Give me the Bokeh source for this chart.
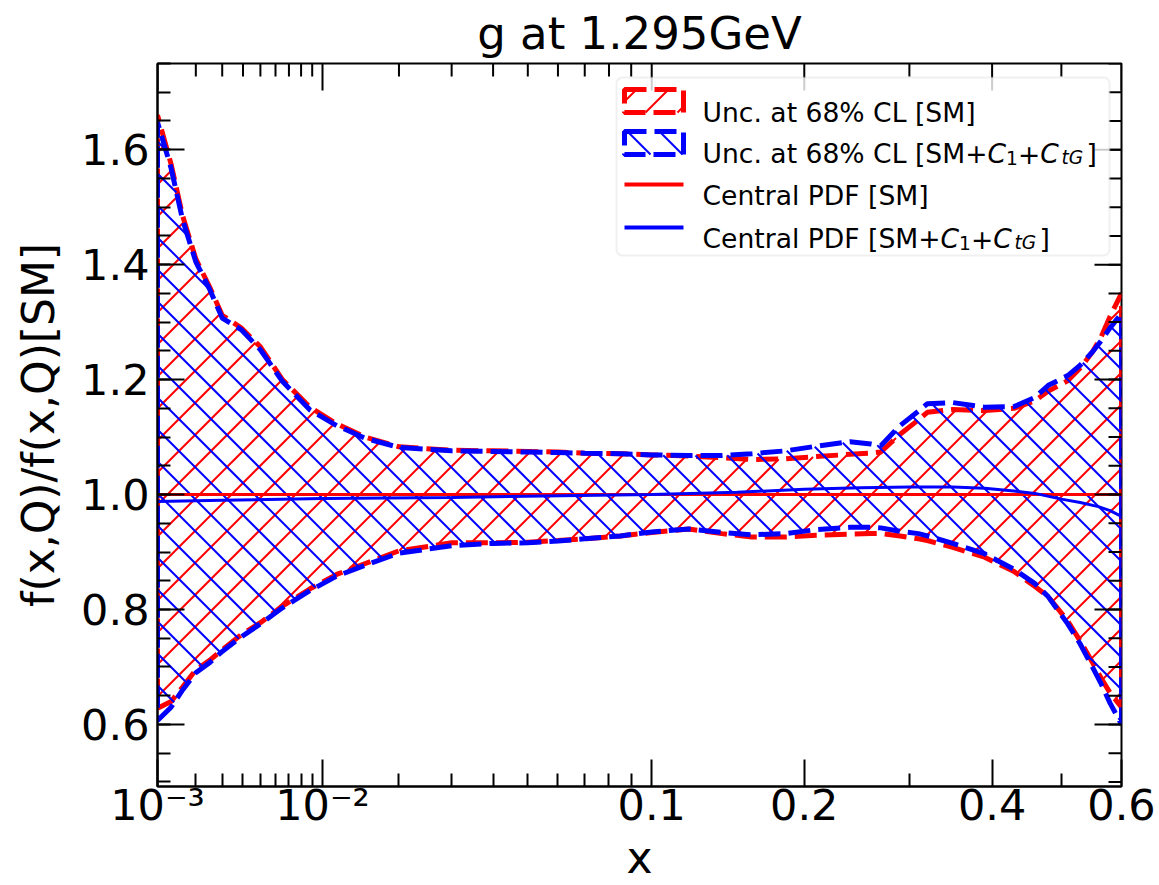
import numpy as np
from bokeh.plotting import figure
from bokeh.models import Range1d, FixedTicker, PrintfTickFormatter, BoxAnnotation, Label
from bokeh.embed import file_html
from bokeh.resources import INLINE

# ---------------- data ----------------
x_vals = [0.001, 0.0013, 0.0016, 0.002, 0.0025, 0.003, 0.0039, 0.005, 0.0065, 0.0088,
          0.0115, 0.015, 0.02, 0.03, 0.04, 0.05, 0.06, 0.07, 0.085, 0.1,
          0.12, 0.14, 0.16, 0.185, 0.21, 0.24, 0.26, 0.27, 0.29, 0.31,
          0.32, 0.35, 0.39, 0.43, 0.46, 0.48, 0.51, 0.53, 0.55, 0.565,
          0.58, 0.6]

sm_upper = [1.66, 1.575, 1.485, 1.41, 1.36, 1.312, 1.29, 1.257, 1.20, 1.152,
            1.123, 1.10, 1.083, 1.077, 1.076, 1.075, 1.074, 1.072, 1.071, 1.069,
            1.067, 1.064, 1.061, 1.062, 1.066, 1.070, 1.072, 1.074, 1.105, 1.13,
            1.143, 1.148, 1.146, 1.150, 1.163, 1.18, 1.198, 1.22, 1.248, 1.275,
            1.31, 1.35]
sm_lower = [0.628, 0.640, 0.665, 0.695, 0.712, 0.73, 0.756, 0.777, 0.806, 0.836,
            0.861, 0.880, 0.902, 0.916, 0.916, 0.917, 0.920, 0.923, 0.928, 0.934,
            0.940, 0.932, 0.926, 0.926, 0.929, 0.931, 0.932, 0.932, 0.928, 0.923,
            0.920, 0.908, 0.891, 0.866, 0.84, 0.822, 0.78, 0.745, 0.708, 0.68,
            0.655, 0.63]

smc_upper = [1.648, 1.568, 1.478, 1.405, 1.356, 1.307, 1.287, 1.252, 1.197, 1.147,
             1.12, 1.098, 1.082, 1.076, 1.075, 1.074, 1.073, 1.072, 1.071, 1.069,
             1.068, 1.068, 1.071, 1.076, 1.084, 1.092, 1.088, 1.085, 1.12, 1.145,
             1.158, 1.160, 1.152, 1.153, 1.169, 1.19, 1.207, 1.225, 1.248, 1.268,
             1.29, 1.315]
smc_lower = [0.607, 0.630, 0.660, 0.690, 0.708, 0.727, 0.752, 0.775, 0.803, 0.833,
             0.858, 0.877, 0.898, 0.911, 0.915, 0.916, 0.919, 0.923, 0.928, 0.935,
             0.940, 0.934, 0.930, 0.932, 0.939, 0.943, 0.943, 0.942, 0.936, 0.932,
             0.928, 0.915, 0.897, 0.870, 0.845, 0.822, 0.775, 0.74, 0.70, 0.67,
             0.637, 0.60]

x_central = [0.001, 0.003, 0.01, 0.03, 0.1, 0.15, 0.2, 0.25, 0.3, 0.35,
             0.39, 0.43, 0.46, 0.5, 0.53, 0.56, 0.58, 0.6]
sm_central = [1.0, 1.0, 1.0, 1.0, 1.0, 1.0, 1.0, 1.0, 1.0, 1.0,
              1.0, 1.0, 1.0, 1.0, 1.0, 1.0, 1.0, 1.0]
smc_central = [0.988, 0.990, 0.993, 0.995, 1.0, 1.004, 1.009, 1.012, 1.013, 1.013,
               1.011, 1.006, 1.002, 0.992, 0.986, 0.979, 0.972, 0.962]

x_major_ticks = [0.001, 0.01, 0.1, 0.2, 0.4, 0.6]
x_major_labels = ["10⁻³", "10⁻²", "0.1", "0.2", "0.4", "0.6"]
x_minor_ticks = [0.002, 0.003, 0.004, 0.005, 0.006, 0.007, 0.008, 0.009,
                 0.02, 0.03, 0.04, 0.05, 0.06, 0.07, 0.08, 0.09, 0.3, 0.5]
y_major_ticks = [0.6, 0.8, 1.0, 1.2, 1.4, 1.6]
y_minor_ticks = [round(0.5 + 0.05 * i, 2) for i in range(26)]

title_text = "g at 1.295GeV"
x_label = "x"
y_label = "f(x,Q)/f(x,Q)[SM]"
legend_labels = ["Unc. at 68% CL [SM]", "Unc. at 68% CL [SM+", "Central PDF [SM]", "Central PDF [SM+"]

# ---------------- x axis uses a power-law (x^0.3) scale ----------------
POW = 0.3


def fwd(v):
    return [float(np.power(float(t), POW)) for t in v]


W, H = 1159, 885
FL, FR, FT, FB = 157, 1121, 63, 786          # intended frame edges (px)
X0, X1 = 0.001, 0.6
Y0, Y1 = 0.492, 1.75
U0, U1 = fwd([X0, X1])
DU = (U1 - U0) / (FR - FL)                   # data units per px
DY = (Y1 - Y0) / (FB - FT)

p = figure(width=W, height=H, output_backend="svg", toolbar_location=None,
           x_range=Range1d(U0, U1), y_range=Range1d(Y0, Y1),
           min_border_left=FL, min_border_right=W - FR,
           min_border_top=FT, min_border_bottom=H - FB,
           background_fill_color="white", border_fill_color="white")
p.grid.visible = False
p.outline_line_color = "black"
p.outline_line_width = 2

p.title.text = title_text
p.title.align = "center"
p.title.text_font = "DejaVu Sans"
p.title.text_font_size = "45px"
p.title.text_font_style = "normal"
p.title.text_color = "black"
p.title.standoff = 7


# ---------------- hatching (45 degree lines in screen space) ----------------
def hatch_lines(xb, lo, hi, sign, spacing=32.0, phase=0.0):
    """xb, lo, hi in screen px (x right, y up). Lines Y = sign*X + c."""
    xb = np.asarray(xb, float)
    lo = np.asarray(lo, float)
    hi = np.asarray(hi, float)
    Xs = np.arange(xb[0], xb[-1] + 0.01, 0.25)
    lo_i = np.interp(Xs, xb, lo)
    hi_i = np.interp(Xs, xb, hi)
    cmin = np.min(lo_i - sign * Xs)
    cmax = np.max(hi_i - sign * Xs)
    c0 = np.floor((cmin - phase) / spacing) * spacing + phase
    xs_out, ys_out = [], []
    for c in np.arange(c0, cmax + spacing, spacing):
        Y = sign * Xs + c
        inside = (Y >= lo_i) & (Y <= hi_i)
        if not inside.any():
            continue
        d = np.diff(inside.astype(int))
        starts = list(np.where(d == 1)[0] + 1)
        ends = list(np.where(d == -1)[0])
        if inside[0]:
            starts = [0] + starts
        if inside[-1]:
            ends = ends + [len(Xs) - 1]
        for s, e in zip(starts, ends):
            if e > s:
                xs_out.append([U0 + Xs[s] * DU, U0 + Xs[e] * DU])
                ys_out.append([Y0 + Y[s] * DY, Y0 + Y[e] * DY])
    return xs_out, ys_out


u = fwd(x_vals)
upx = [(v - U0) / DU for v in u]


def to_px_y(vals):
    return [(v - Y0) / DY for v in vals]


def band(lo, hi):
    return u + u[::-1], list(lo) + list(hi)[::-1]


# SM band (red, "/" hatch)
hx, hy = hatch_lines(upx, to_px_y(sm_lower), to_px_y(sm_upper), +1, 32.0, 26.0)
p.multi_line(hx, hy, line_color="red", line_width=2)
bx, by = band(sm_lower, sm_upper)
p.patch(bx, by, fill_color=None, line_color="red", line_width=5, line_dash="22 8")

# SM + C band (blue, "\" hatch)
hx, hy = hatch_lines(upx, to_px_y(smc_lower), to_px_y(smc_upper), -1, 32.0, 5.0)
p.multi_line(hx, hy, line_color="blue", line_width=2)
bx, by = band(smc_lower, smc_upper)
p.patch(bx, by, fill_color=None, line_color="blue", line_width=5, line_dash="22 8")

uc = fwd(x_central)
p.line(uc, sm_central, line_color="red", line_width=3)
p.line(uc, smc_central, line_color="blue", line_width=3)

# ---------------- axes ----------------
xt = FixedTicker(ticks=fwd(x_major_ticks), minor_ticks=fwd(x_minor_ticks))
yt = FixedTicker(ticks=y_major_ticks, minor_ticks=y_minor_ticks)
overrides = {k: lab for k, lab in zip(fwd(x_major_ticks), x_major_labels)}


def style(ax):
    ax.axis_line_color = "black"
    ax.axis_line_width = 2
    ax.major_tick_line_color = "black"
    ax.major_tick_line_width = 2
    ax.minor_tick_line_color = "black"
    ax.minor_tick_line_width = 2
    ax.major_tick_in = 27
    ax.major_tick_out = 0
    ax.minor_tick_in = 13
    ax.minor_tick_out = 0
    ax.major_label_text_font = "DejaVu Sans"
    ax.major_label_text_font_size = "43px"
    ax.major_label_text_color = "black"
    ax.axis_label_text_font = "DejaVu Sans"
    ax.axis_label_text_font_size = "44px"
    ax.axis_label_text_font_style = "normal"
    ax.axis_label_text_color = "black"


xa = p.xaxis[0]
xa.ticker = xt
xa.major_label_overrides = overrides
xa.axis_label = x_label
style(xa)
xa.major_label_standoff = -7
xa.axis_label_standoff = -1

ya = p.yaxis[0]
ya.ticker = yt
ya.formatter = PrintfTickFormatter(format="%.1f")
ya.axis_label = y_label
style(ya)
ya.major_label_standoff = 8
ya.axis_label_standoff = 14

# mirrored inward ticks on the top and right edges
ux_major = fwd(x_major_ticks)
ux_minor = fwd(x_minor_ticks)
p.segment(x0=ux_major, x1=ux_major, y0=[Y1] * len(ux_major), y1=[Y1 - 27 * DY] * len(ux_major),
          line_color="black", line_width=2)
p.segment(x0=ux_minor, x1=ux_minor, y0=[Y1] * len(ux_minor), y1=[Y1 - 13 * DY] * len(ux_minor),
          line_color="black", line_width=2)
p.segment(x0=[U1] * len(y_major_ticks), x1=[U1 - 27 * DU] * len(y_major_ticks),
          y0=y_major_ticks, y1=y_major_ticks, line_color="black", line_width=2)
p.segment(x0=[U1] * len(y_minor_ticks), x1=[U1 - 13 * DU] * len(y_minor_ticks),
          y0=y_minor_ticks, y1=y_minor_ticks, line_color="black", line_width=2)

# ---------------- legend (drawn by hand) ----------------


def cx2u(cx):
    return U0 + (cx - FL) * DU


def cy2y(cy):
    return Y1 - (cy - FT) * DY


box = BoxAnnotation(left=cx2u(616), right=cx2u(1109), top=cy2y(77), bottom=cy2y(255),
                    fill_color="white", fill_alpha=0.8, line_color="#cccccc",
                    line_width=2, border_radius=6)
p.add_layout(box)


def legend_patch(top_px, bot_px, color, sign, phase):
    xb = [624 - FL, 683 - FL]
    lo = [FB - bot_px, FB - bot_px]
    hi = [FB - top_px, FB - top_px]
    hx_, hy_ = hatch_lines(xb, lo, hi, sign, 32.0, phase)
    p.multi_line(hx_, hy_, line_color=color, line_width=2, level="overlay")
    p.quad(left=[cx2u(624)], right=[cx2u(683)], top=[cy2y(top_px)], bottom=[cy2y(bot_px)],
           fill_color=None, line_color=color, line_width=5, line_dash="22 8", level="overlay")


legend_patch(89, 112, "red", +1, 26.0)
legend_patch(131, 154, "blue", -1, 5.0)
p.line([cx2u(624), cx2u(683)], [cy2y(184), cy2y(184)], line_color="red", line_width=4, level="overlay")
p.line([cx2u(624), cx2u(683)], [cy2y(227), cy2y(227)], line_color="blue", line_width=4, level="overlay")

F = 26.6
S = 18.6


def lab(text, cy, dx=0.0, dy=0.0, size=F, style_="normal"):
    p.add_layout(Label(x=cx2u(702), y=cy2y(cy), x_offset=dx, y_offset=dy, text=text,
                       text_font="DejaVu Sans", text_font_size=f"{size}px",
                       text_font_style=style_, text_baseline="alphabetic",
                       text_align="left", text_color="black"))


def math_tail(cy, P):
    lab("C", cy, P, 0, F, "italic")
    lab("1", cy, P + 18.6, -4, S)
    lab("+", cy, P + 30.4, 0, F)
    lab("C", cy, P + 52.7, 0, F, "italic")
    lab("tG", cy, P + 74, -4, S, "italic")
    lab("]", cy, P + 99, 0, F)


rows = [111.5, 153, 195, 238]
lab(legend_labels[0], rows[0])
lab(legend_labels[1], rows[1])
math_tail(rows[1], 285)
lab(legend_labels[2], rows[2])
lab(legend_labels[3], rows[3])
math_tail(rows[3], 238)

open("out.html", "w").write(file_html(p, INLINE))
